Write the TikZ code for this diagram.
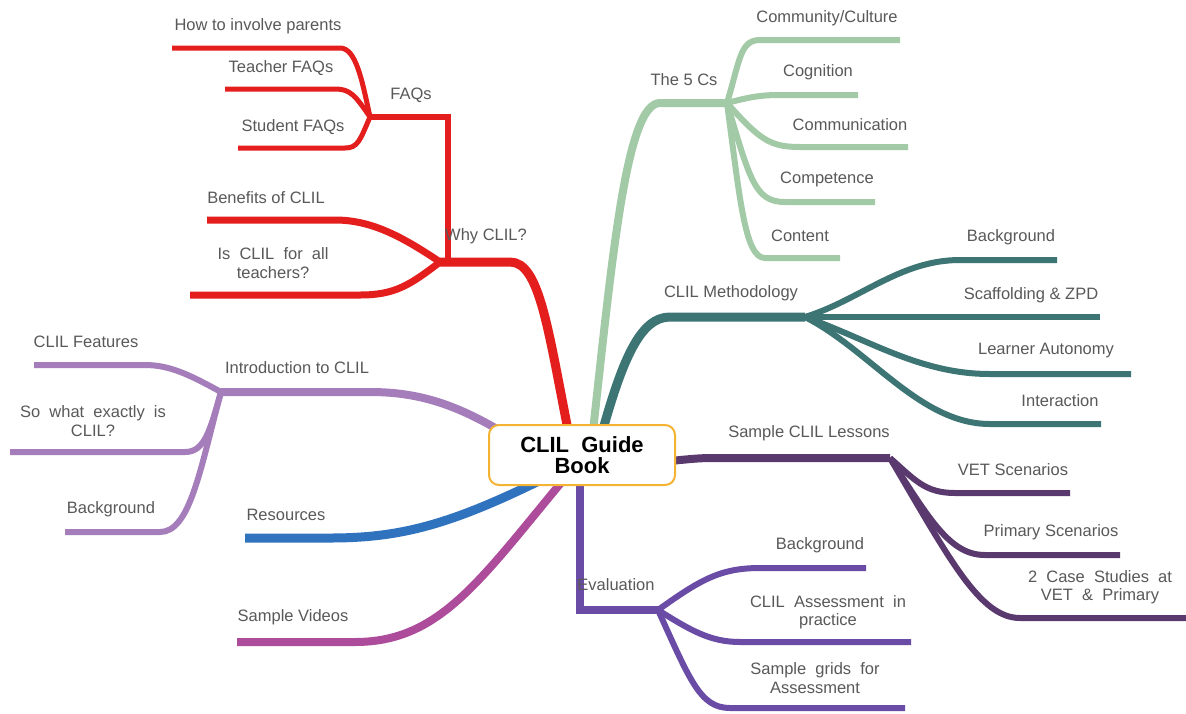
\documentclass[tikz,border=0pt]{standalone}
\usepackage{fontspec}
\setmainfont{Liberation Sans}
\definecolor{cRed}{HTML}{E41D1D}
\definecolor{cGreen}{HTML}{A2CAA6}
\definecolor{cTeal}{HTML}{3D7574}
\definecolor{cPlum}{HTML}{5A3A6E}
\definecolor{cViolet}{HTML}{6A4CA6}
\definecolor{cLav}{HTML}{A47DBA}
\definecolor{cBlue}{HTML}{2F72BE}
\definecolor{cMag}{HTML}{AE4C9C}
\definecolor{cOrange}{HTML}{F5B334}
\definecolor{labelgray}{HTML}{595959}
\tikzset{
  lbl/.style={font=\fontsize{16.5}{18.5}\selectfont, text=labelgray, align=center, inner sep=0pt},
  mainbr/.style={line width=9pt, line cap=butt, line join=round},
  subbr/.style={line width=6pt, line cap=butt, line join=round},
  hub/.style={draw=cOrange, line width=2pt, rounded corners=10pt, fill=white,
    minimum width=186pt, minimum height=60pt, align=center, inner sep=0pt,
    font=\fontsize{22}{21}\selectfont\bfseries}
}
\begin{document}
\begin{tikzpicture}[x=1pt,y=-1pt]
\useasboundingbox (0,0) rectangle (1186,713);
\fill[white] (0,0) rectangle (1186,713);
% junction and end coordinates
\coordinate (jWhy) at (440,262);
\coordinate (jFaq) at (370,117);
\coordinate (cFaq) at (448,117);
\coordinate (ePar) at (172,48);
\coordinate (eTea) at (225,89);
\coordinate (eStu) at (238,148);
\coordinate (eBen) at (207,220);
\coordinate (eAll) at (190,295);
\coordinate (j5C) at (727,103);
\coordinate (eCom) at (900,40);
\coordinate (eCog) at (858,95);
\coordinate (eCmm) at (908,147);
\coordinate (eCmp) at (875,202);
\coordinate (eCon) at (840,258);
\coordinate (jMet) at (805,317);
\coordinate (eMB) at (1057,260);
\coordinate (eSca) at (1100,317);
\coordinate (eLea) at (1131,374);
\coordinate (eInt) at (1101,424);
\coordinate (jLes) at (890,458);
\coordinate (eVET) at (1070,493);
\coordinate (ePri) at (1120,555);
\coordinate (eCas) at (1186,618);
\coordinate (cEva) at (580,610);
\coordinate (jEva) at (658,610);
\coordinate (eEB) at (866,568);
\coordinate (eAss) at (911,642);
\coordinate (eGri) at (905,708);
\coordinate (jInt) at (221,392);
\coordinate (eFea) at (34,365);
\coordinate (eSo) at (10,452);
\coordinate (eIB) at (65,532);
\coordinate (eRes) at (245,538);
\coordinate (eVid) at (237,642);
% red
\draw[cRed, line width=9pt, line join=round] (570,440) .. controls (548,330) and (540,262) .. (510,262) -- (jWhy);
\draw[cRed, subbr, line join=miter] (jWhy) ++(8,0) -- (cFaq) -- (jFaq);
\draw[cRed, line width=5pt] (jFaq) .. controls (362,80) and (356,48) .. (340,48) -- (ePar);
\draw[cRed, line width=5pt] (jFaq) .. controls (355,95) and (350,89) .. (335,89) -- (eTea);
\draw[cRed, line width=5pt] (jFaq) .. controls (360,140) and (358,148) .. (345,148) -- (eStu);
\draw[cRed, line width=7pt] (jWhy) .. controls (400,235) and (370,220) .. (335,220) -- (eBen);
\draw[cRed, line width=7pt] (jWhy) .. controls (410,285) and (395,295) .. (360,295) -- (eAll);
% green
\draw[cGreen, line width=8pt] (592,440) .. controls (612,260) and (626,103) .. (660,103) -- (j5C);
\draw[cGreen, subbr] (j5C) .. controls (740,60) and (740,40) .. (760,40) -- (eCom);
\draw[cGreen, subbr] (j5C) .. controls (750,97) and (760,95) .. (780,95) -- (eCog);
\draw[cGreen, subbr] (j5C) .. controls (760,140) and (770,147) .. (800,147) -- (eCmm);
\draw[cGreen, subbr] (j5C) .. controls (750,180) and (755,202) .. (785,202) -- (eCmp);
\draw[cGreen, subbr] (j5C) .. controls (740,200) and (745,258) .. (765,258) -- (eCon);
% teal
\draw[cTeal, mainbr] (600,440) .. controls (622,360) and (640,317) .. (670,317) -- (jMet);
\draw[cTeal, subbr] (jMet) .. controls (860,300) and (900,260) .. (960,260) -- (eMB);
\draw[cTeal, subbr] (jMet) -- (eSca);
\draw[cTeal, subbr] (jMet) .. controls (870,340) and (920,374) .. (990,374) -- (eLea);
\draw[cTeal, subbr] (jMet) .. controls (870,350) and (920,424) .. (990,424) -- (eInt);
% plum
\draw[cPlum, line width=8pt] (660,462) .. controls (700,458) .. (720,458) -- (jLes);
\draw[cPlum, subbr] (jLes) .. controls (915,480) and (925,493) .. (955,493) -- (eVET);
\draw[cPlum, subbr] (jLes) .. controls (930,520) and (950,555) .. (985,555) -- (ePri);
\draw[cPlum, subbr] (jLes) .. controls (950,560) and (980,618) .. (1020,618) -- (eCas);
% violet
\draw[cViolet, line width=8pt, line join=miter] (580,470) -- (cEva) -- (jEva);
\draw[cViolet, subbr] (jEva) .. controls (700,580) and (720,568) .. (760,568) -- (eEB);
\draw[cViolet, subbr] (jEva) .. controls (690,630) and (710,642) .. (740,642) -- (eAss);
\draw[cViolet, subbr] (jEva) .. controls (690,680) and (700,708) .. (730,708) -- (eGri);
% lavender
\draw[cLav, line width=8pt] (515,440) .. controls (460,405) and (420,392) .. (370,392) -- (jInt);
\draw[cLav, subbr] (jInt) .. controls (190,375) and (170,365) .. (145,365) -- (eFea);
\draw[cLav, subbr] (jInt) .. controls (210,430) and (205,452) .. (185,452) -- (eSo);
\draw[cLav, subbr] (jInt) .. controls (200,470) and (190,532) .. (160,532) -- (eIB);
% blue
\draw[cBlue, line width=9pt] (545,478) .. controls (450,525) and (400,538) .. (330,538) -- (eRes);
% magenta
\draw[cMag, line width=8pt] (565,478) .. controls (480,580) and (440,642) .. (355,642) -- (eVid);
% hub
\node[hub] (center) at (582,455) {CLIL\ \ Guide\\Book};
% labels
\node[lbl] (tPar) at (258,26) {How to involve parents};
\node[lbl] (tTea) at (281,68) {Teacher FAQs};
\node[lbl] (tStu) at (293,127) {Student FAQs};
\node[lbl] (tFaq) at (411,95) {FAQs};
\node[lbl] (tBen) at (266,198) {Benefits of CLIL};
\node[lbl] (tAll) at (273,263) {Is\ \ CLIL\ \ for\ \ all\\teachers?};
\node[lbl] (tWhy) at (486,236) {Why CLIL?};
\node[lbl] (t5C) at (684,80) {The 5 Cs};
\node[lbl] (tCom) at (827,18) {Community/Culture};
\node[lbl] (tCog) at (818,72) {Cognition};
\node[lbl] (tCmm) at (850,125) {Communication};
\node[lbl] (tCmp) at (827,179) {Competence};
\node[lbl] (tCon) at (800,236) {Content};
\node[lbl] (tMet) at (731,293) {CLIL Methodology};
\node[lbl] (tMB) at (1011,237) {Background};
\node[lbl] (tSca) at (1031,295) {Scaffolding \& ZPD};
\node[lbl] (tLea) at (1046,351) {Learner Autonomy};
\node[lbl] (tInt) at (1060,401) {Interaction};
\node[lbl] (tLes) at (809,433) {Sample CLIL Lessons};
\node[lbl] (tVET) at (1013,470) {VET Scenarios};
\node[lbl] (tPri) at (1051,532) {Primary Scenarios};
\node[lbl] (tCas) at (1100,587) {2\ \ Case\ \ Studies\ \ at\\VET\ \ \&\ \ Primary};
\node[lbl] (tEva) at (616,585) {Evaluation};
\node[lbl] (tEB) at (820,545) {Background};
\node[lbl] (tAss) at (828,612) {CLIL\ \ Assessment\ \ in\\practice};
\node[lbl] (tGri) at (815,678) {Sample\ \ grids\ \ for\\Assessment};
\node[lbl] (tIntro) at (297,368) {Introduction to CLIL};
\node[lbl] (tFea) at (86,342) {CLIL Features};
\node[lbl] (tSo) at (93,421) {So\ \ what\ \ exactly\ \ is\\CLIL?};
\node[lbl] (tIB) at (111,509) {Background};
\node[lbl] (tRes) at (286,515) {Resources};
\node[lbl] (tVid) at (293,617) {Sample Videos};
\end{tikzpicture}
\end{document}
